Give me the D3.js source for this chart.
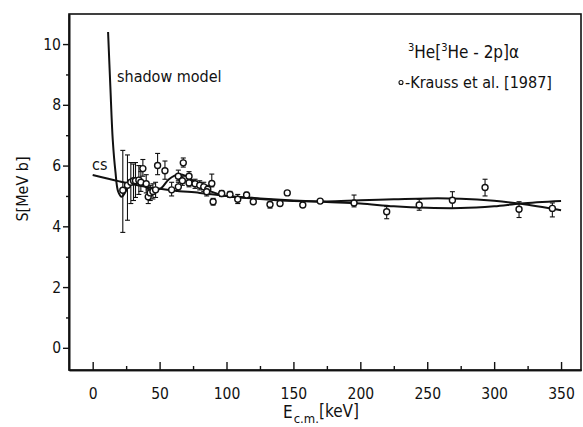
<!DOCTYPE html>
<html>
<head>
<meta charset="utf-8">
<script src="https://cdn.jsdelivr.net/npm/d3@7"></script>
<style>
  body { margin: 0; background: #fff; }
  svg text { font-family: "DejaVu Sans Condensed", "Liberation Sans Narrow", "DejaVu Sans", sans-serif; font-stretch: condensed; fill: #111; }
</style>
</head>
<body>
<svg width="583" height="427"></svg>
<script>
// Krauss et al. [1987] data points (E in keV, S in MeV b)
const energy = [22.5, 26, 28.5, 30.5, 32, 34.5, 36, 37.5, 40, 41.5, 43, 45, 47, 48.5, 54, 59, 64, 64, 67, 67.7,
    72, 72, 76.5, 80, 83, 86, 85.2, 89, 90, 96.4, 102.6, 108.4, 115, 120, 132.5, 140, 145.4, 157, 170,
    195.3, 219.7, 244, 268.8, 293.2, 318.6, 343.5];
const sFactor = [5.19, 5.35, 5.45, 5.5, 5.5, 5.52, 5.45, 5.9, 5.4, 4.97, 5.1, 5.15, 5.2, 6.0, 5.83, 5.2, 5.3, 5.65, 5.5, 6.09,
    5.65, 5.43, 5.4, 5.35, 5.3, 5.22, 5.14, 5.41, 4.81, 5.08, 5.05, 4.89, 5.03, 4.81, 4.72, 4.75, 5.1, 4.7, 4.83,
    4.77, 4.48, 4.7, 4.86, 5.28, 4.56, 4.59];
const sLow = [3.8, 4.2, 4.75, 4.85, 4.95, 5.05, 5.15, 5.65, 5.1, 4.75, 4.85, 4.9, 4.95, 5.7, 5.55, 5.0, 5.15, 5.5, 5.35, 5.95,
    5.5, 5.3, 5.25, 5.2, 5.15, 5.1, 5.0, 5.3, 4.7, 4.98, 4.95, 4.75, 4.95, 4.75, 4.6, 4.7, 5.05, 4.65, 4.78,
    4.64, 4.25, 4.53, 4.59, 5.0, 4.29, 4.31];
const sHigh = [6.5, 6.35, 6.1, 6.05, 6.1, 6.0, 5.8, 6.2, 5.7, 5.2, 5.35, 5.4, 5.45, 6.4, 6.15, 5.45, 5.45, 5.85, 5.65, 6.25,
    5.8, 5.55, 5.55, 5.5, 5.45, 5.35, 5.3, 5.72, 4.92, 5.18, 5.15, 5.05, 5.12, 4.88, 4.8, 4.82, 5.15, 4.75, 4.88,
    5.03, 4.65, 4.89, 5.14, 5.55, 4.81, 4.77];

// shadow model curve
const shadowE = [11.5, 13.2, 15, 17, 19, 21.7, 24, 27, 31, 36, 41, 45, 51, 57, 64, 70, 78, 88, 100, 125, 150, 175,
    200, 225, 250, 275, 300, 320, 350];
const shadowS = [10.4, 8.6, 6.84, 5.8, 5.15, 4.97, 5.1, 5.35, 5.5, 5.45, 5.25, 5.19, 5.25, 5.55, 5.71, 5.65, 5.4, 5.15, 5.0, 4.9, 4.83, 4.82,
    4.86, 4.89, 4.92, 4.91, 4.84, 4.74, 4.53];

// cs curve
const csE = [0, 20, 40, 60, 80, 100, 125, 150, 175, 200, 225, 250, 275, 300, 320, 350];
const csS = [5.69, 5.48, 5.3, 5.18, 5.1, 5.0, 4.92, 4.85, 4.8, 4.75, 4.66, 4.61, 4.6, 4.66, 4.75, 4.83];

const xMajor = [0, 50, 100, 150, 200, 250, 300, 350];
const xMinor = [25, 75, 125, 175, 225, 275, 325];
const yMajor = [0, 2, 4, 6, 8, 10];
const yMinor = [1, 3, 5, 7, 9];

const svg = d3.select("svg");
const plotLeft = 69, plotRight = 581, plotTop = 14, plotBottom = 370;

const xScale = d3.scaleLinear().domain([-17.7, 364.9]).range([plotLeft, plotRight]);
const yScale = d3.scaleLinear().domain([-0.73, 10.99]).range([plotBottom, plotTop]);

// frame
svg.append("rect")
    .attr("x", plotLeft).attr("y", plotTop)
    .attr("width", plotRight - plotLeft).attr("height", plotBottom - plotTop)
    .attr("fill", "none").attr("stroke", "#111").attr("stroke-width", 1.6);

// x axis, ticks pointing into the plot
svg.append("g")
    .attr("transform", `translate(0, ${plotBottom})`)
    .call(d3.axisBottom(xScale).tickValues(xMajor).tickSizeInner(-8).tickSizeOuter(0).tickPadding(18));
svg.append("g")
    .attr("transform", `translate(0, ${plotBottom})`)
    .call(d3.axisBottom(xScale).tickValues(xMinor).tickSizeInner(-4).tickSizeOuter(0).tickFormat(""));

// y axis, ticks pointing out
svg.append("g")
    .attr("transform", `translate(${plotLeft}, 0)`)
    .call(d3.axisLeft(yScale).tickValues(yMajor).tickSizeInner(6).tickSizeOuter(0).tickPadding(2));
svg.append("g")
    .attr("transform", `translate(${plotLeft}, 0)`)
    .call(d3.axisLeft(yScale).tickValues(yMinor).tickSizeInner(3).tickSizeOuter(0).tickFormat(""));

svg.selectAll(".domain").attr("stroke", "#111").attr("stroke-width", 1.6);
svg.selectAll(".tick line").attr("stroke", "#111").attr("stroke-width", 1.4);
svg.selectAll(".tick text").attr("font-size", 15.5).attr("fill", "#111")
    .style("font-family", "'DejaVu Sans Condensed', 'Liberation Sans Narrow', 'DejaVu Sans', sans-serif");

// curves
const line = d3.line()
    .x((d) => xScale(d[0]))
    .y((d) => yScale(d[1]))
    .curve(d3.curveCatmullRom.alpha(0.5));

svg.append("path")
    .datum(csE.map((e, i) => [e, csS[i]]))
    .attr("d", line)
    .attr("fill", "none").attr("stroke", "#111").attr("stroke-width", 2);

svg.append("path")
    .datum(shadowE.map((e, i) => [e, shadowS[i]]))
    .attr("d", line)
    .attr("fill", "none").attr("stroke", "#111").attr("stroke-width", 2);

// error bars
const points = energy.map((e, i) => ({ e: e, s: sFactor[i], lo: sLow[i], hi: sHigh[i] }));
const bars = svg.append("g").attr("stroke", "#111").attr("stroke-width", 1.1);
points.forEach((p) => {
    const x = xScale(p.e);
    bars.append("line").attr("x1", x).attr("x2", x)
        .attr("y1", yScale(p.lo)).attr("y2", yScale(p.hi));
    [p.lo, p.hi].forEach((v) => {
        bars.append("line").attr("x1", x - 2.5).attr("x2", x + 2.5)
            .attr("y1", yScale(v)).attr("y2", yScale(v));
    });
});

// markers
svg.append("g").selectAll("circle")
    .data(points)
    .enter()
    .append("circle")
    .attr("cx", (d) => xScale(d.e))
    .attr("cy", (d) => yScale(d.s))
    .attr("r", 3)
    .attr("fill", "#fff")
    .attr("stroke", "#111")
    .attr("stroke-width", 1.4);

// labels
svg.append("text")
    .attr("x", 22).attr("y", 189)
    .attr("transform", "rotate(-90, 22, 189)")
    .attr("text-anchor", "middle").attr("dy", "0.35em")
    .attr("font-size", 16)
    .text("S[MeV b]");

const xl = svg.append("text").attr("x", 283).attr("y", 418).attr("font-size", 17);
xl.append("tspan").text("E");
xl.append("tspan").attr("font-size", 13).attr("dy", 5).attr("dx", 1).text("c.m.");
xl.append("tspan").attr("dy", -6).text("[keV]");

svg.append("text").attr("x", 117).attr("y", 82).attr("font-size", 16).text("shadow model");
svg.append("text").attr("x", 92).attr("y", 170).attr("font-size", 16).text("cs");

const title = svg.append("text").attr("x", 408).attr("y", 58).attr("font-size", 17);
title.append("tspan").attr("font-size", 11).attr("dy", -7).text("3");
title.append("tspan").attr("dy", 7).text("He[");
title.append("tspan").attr("font-size", 11).attr("dy", -7).text("3");
title.append("tspan").attr("dy", 7).text("He - 2p]α");

svg.append("circle").attr("cx", 401).attr("cy", 82.5).attr("r", 2)
    .attr("fill", "#fff").attr("stroke", "#111").attr("stroke-width", 1.1);
svg.append("text").attr("x", 405).attr("y", 88).attr("font-size", 16).text("-Krauss et al. [1987]");
</script>
</body>
</html>
